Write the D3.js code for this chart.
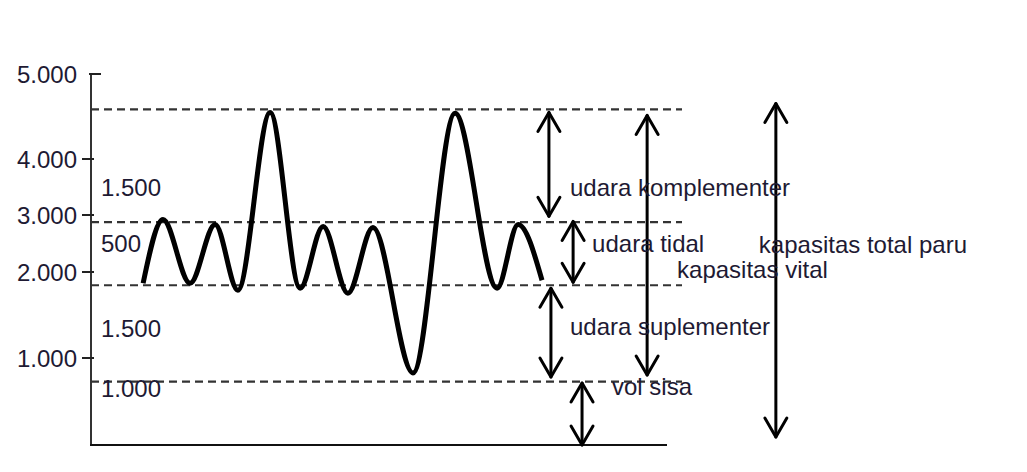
<!DOCTYPE html>
<html><head><meta charset="utf-8">
<script src="https://cdn.jsdelivr.net/npm/d3@7"></script>
<style>body{margin:0;background:#fff}text{font-family:"Liberation Sans",Arial,sans-serif}</style>
</head><body><svg id="c" width="1027" height="472"></svg>
<script>
// ---- data ----
const yTicks = [1000, 2000, 3000, 4000, 5000];
const yTickLabels = ["1.000", "2.000", "3.000", "4.000", "5.000"];
const levels = [4583, 2875, 1846, 728];            // dashed reference levels
const waveT = [1.81, 2.5, 3.44, 4.31, 5.1, 6.22, 7.26, 8.06, 8.92, 9.79, 11.18, 12.64, 14.1, 14.83, 15.66];
const waveV = [1869, 2923, 1869, 2834, 1788, 4548, 1811, 2798, 1753, 2780, 828, 4537, 1811, 2834, 1904];
const leftLabels = ["1.500", "500", "1.500", "1.000"];
const leftLabelV = [3347, 2352, 1243, 552];
const rightLabels = ["udara komplementer", "udara tidal", "kapasitas vital", "udara suplementer", "vol sisa", "kapasitas total paru"];
const rightLabelT = [16.63, 17.4, 20.35, 16.63, 18.09, 23.19];
const rightLabelV = [3347, 2352, 1927, 1266, 575, 2334];
const arrowT = [15.9, 19.31, 23.78, 16.74, 15.97, 17.05];
const arrowV0 = [4548, 4513, 4653, 2887, 1811, 713];
const arrowV1 = [2977, 805, 92, 1881, 782, 0];

// ---- drawing ----
const svg = d3.select("#c");
const textColor = "#1e1a33";
const fs = 24;
const x = d3.scaleLinear().domain([0, 20]).range([91, 667]);
const y = d3.scaleLinear().domain([0, 1000, 2000, 3000, 4000, 5000]).range([445, 358, 272, 215, 159, 74]);

// axes
svg.append("line").attr("x1", x(0)).attr("x2", x(0)).attr("y1", y(5000)).attr("y2", y(0))
  .attr("stroke", "#333").attr("stroke-width", 2);
svg.append("line").attr("x1", x(0) - 1).attr("x2", x(20)).attr("y1", y(0)).attr("y2", y(0))
  .attr("stroke", "#111").attr("stroke-width", 2.2);

const tk = svg.append("g");
yTicks.forEach((v, i) => {
  const top = i === yTicks.length - 1;
  tk.append("line").attr("x1", x(0) + (top ? -2 : -9)).attr("x2", x(0) + (top ? 10 : 3))
    .attr("y1", y(v)).attr("y2", y(v)).attr("stroke", "#222").attr("stroke-width", 2);
  tk.append("text").attr("x", 77).attr("y", y(v)).attr("dy", "0.36em")
    .attr("text-anchor", "end").attr("font-size", fs).attr("fill", textColor).text(yTickLabels[i]);
});

// dashed levels
svg.append("g").selectAll("line").data(levels).join("line")
  .attr("x1", x(0)).attr("x2", 682).attr("y1", d => y(d)).attr("y2", d => y(d))
  .attr("stroke", "#333").attr("stroke-width", 2.2).attr("stroke-dasharray", "8,5");

// waveform
const pts = waveT.map((t, i) => [t, waveV[i]]);
svg.append("path").datum(pts)
  .attr("d", d3.line().x(d => x(d[0])).y(d => y(d[1])).curve(d3.curveMonotoneX))
  .attr("fill", "none").attr("stroke", "#000").attr("stroke-width", 5).attr("stroke-linejoin", "round");

// left labels
svg.append("g").selectAll("text").data(leftLabels).join("text")
  .attr("x", 101).attr("y", (d, i) => y(leftLabelV[i]))
  .attr("font-size", fs).attr("fill", textColor).text(d => d);

// arrows
const ag = svg.append("g").attr("stroke", "#000").attr("stroke-width", 3).attr("fill", "none")
  .attr("stroke-linecap", "round").attr("stroke-linejoin", "round");
arrowT.forEach((t, i) => {
  const ax = x(t), ya = y(arrowV0[i]), yb = y(arrowV1[i]);
  ag.append("line").attr("x1", ax).attr("x2", ax).attr("y1", ya).attr("y2", yb);
  ag.append("path").attr("d", `M${ax - 11},${ya + 19}L${ax},${ya}L${ax + 11},${ya + 19}`);
  ag.append("path").attr("d", `M${ax - 11},${yb - 19}L${ax},${yb}L${ax + 11},${yb - 19}`);
});

// right labels
svg.append("g").selectAll("text").data(rightLabels).join("text")
  .attr("x", (d, i) => x(rightLabelT[i])).attr("y", (d, i) => y(rightLabelV[i]))
  .attr("font-size", fs).attr("fill", textColor).text(d => d);
</script></body></html>
